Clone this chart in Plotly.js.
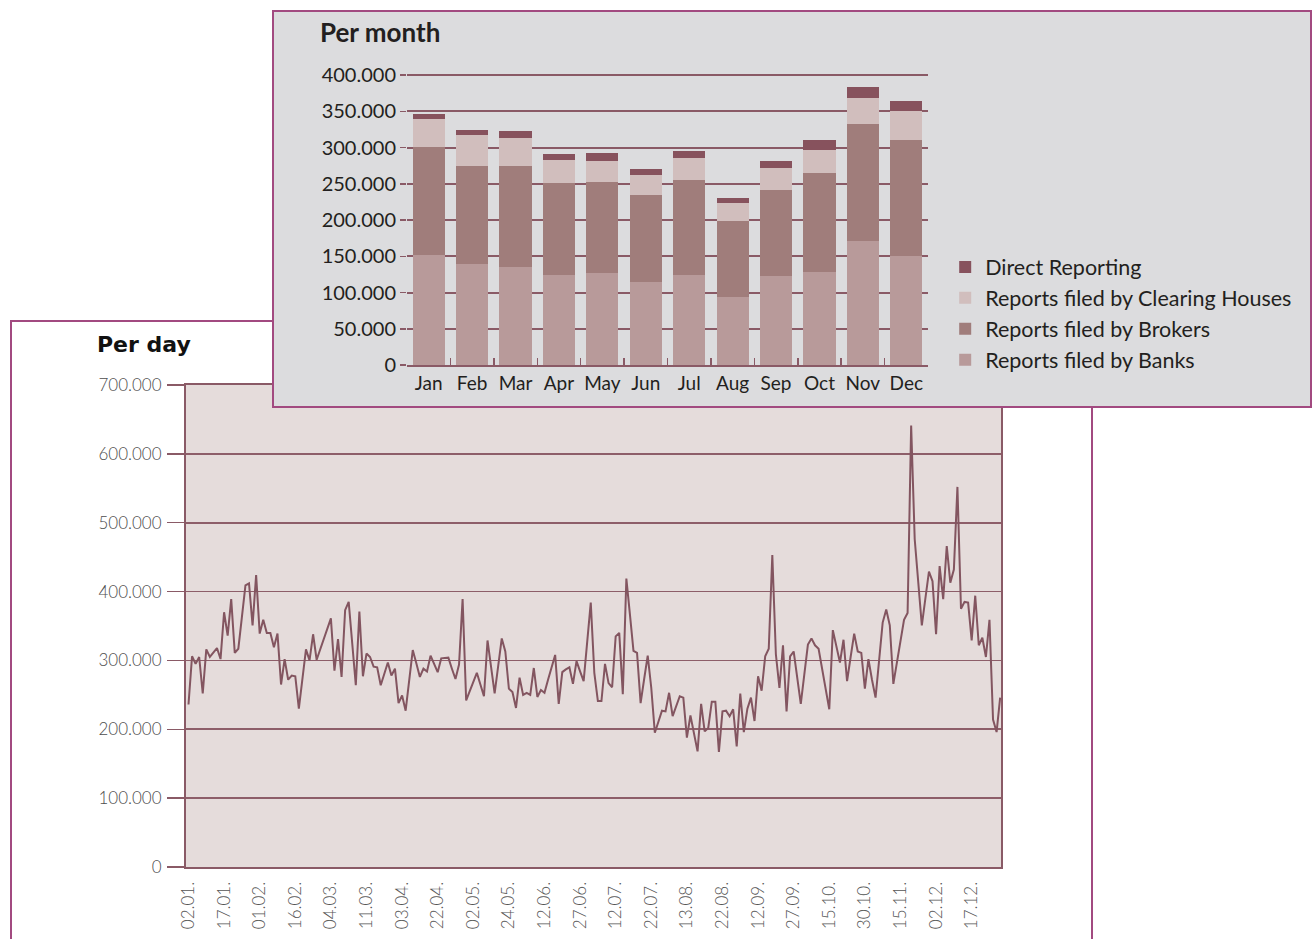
<!DOCTYPE html>
<html><head><meta charset="utf-8">
<script src="https://cdn.plot.ly/plotly-3.0.1.min.js"></script>
<style>
html,body{margin:0;padding:0;width:1312px;height:939px;overflow:hidden;background:#fff;}
#day{position:absolute;left:10px;top:320px;width:1079px;height:636px;border:2px solid #a24a80;z-index:1;background:#fff;}
#month{position:absolute;left:272px;top:10px;width:1036px;height:394px;border:2px solid #a24a80;z-index:2;background:#dcdcde;}
</style></head><body>
<div id="day"></div><div id="month"></div>
<script>
// ---------- Per month (stacked bars) ----------
const months = ['Jan','Feb','Mar','Apr','May','Jun','Jul','Aug','Sep','Oct','Nov','Dec'];
const banks          = [152000,139000,135000,124000,127000,114000,124000, 94000,123000,128000,171000,150000];
const brokers        = [149000,135000,139000,127000,125000,120000,132000,105000,119000,137000,161000,160000];
const clearingHouses = [ 39000, 44000, 39000, 32000, 30000, 28000, 30000, 25000, 30000, 32000, 36000, 40000];
const directReports  = [  7000,  7000, 10000,  8000, 10000,  8000, 10000,  7000, 10000, 14000, 15000, 15000];
const seriesNames = ['Reports filed by Banks','Reports filed by Brokers','Reports filed by Clearing Houses','Direct Reporting'];

// ---------- Per day (line), values in thousands ----------
const dailyReportsThousands = [
 236,306,295,305,252,316,305,311,318,302,
 370,336,389,311,317,363,409,412,351,424,
 339,359,340,340,319,339,265,302,272,278,
 277,230,273,316,300,338,301,316,331,346,
 361,285,331,276,373,385,327,264,371,277,
 310,305,291,290,264,281,297,278,288,238,
 249,227,271,315,296,276,288,284,307,295,
 283,303,303,304,288,273,294,389,242,256,
 271,282,265,248,329,290,252,292,332,313,
 259,254,231,275,250,253,250,289,247,257,
 253,272,290,308,237,283,287,290,266,299,
 284,270,327,384,282,241,241,295,267,261,
 335,340,251,419,367,314,311,238,273,307,
 260,195,211,227,226,253,219,234,248,246,
 188,220,194,168,237,197,202,240,240,167,
 226,227,219,229,175,252,196,230,246,212,
 277,256,306,317,453,309,260,322,226,306,
 313,275,237,280,323,332,322,317,288,258,
 229,344,320,297,330,270,305,339,313,311,
 259,302,272,246,300,355,374,351,266,297,
 328,359,369,641,476,413,351,390,429,415,
 338,437,389,466,413,432,552,375,385,384,
 329,394,322,333,305,359,214,196,246
];
const dayTickLabels = ['02.01.','17.01.','01.02.','16.02.','04.03.','11.03.','03.04.','22.04.','02.05.','24.05.','12.06.','27.06.','12.07.','22.07.','13.08.','22.08.','12.09.','27.09.','15.10.','30.10.','15.11.','02.12.','17.12.'];
const tickEvery = 10;

const axisCol = '#8a5a66';
const cfg = {staticPlot:true, displayModeBar:false};

// ---- day chart ----
const dailyReports = dailyReportsThousands.map(v => v*1000);
const dayIdx = dailyReports.map((_,i)=>i);
const dayTickVals = dayTickLabels.map((_,k)=>k*tickEvery);

Plotly.newPlot('day', [{
  x: dayIdx, y: dailyReports, type:'scatter', mode:'lines',
  line:{color:'#835560', width:2}, hoverinfo:'skip'
}], {
  width:1079, height:636, margin:{l:174, r:90, t:63, b:91},
  paper_bgcolor:'#ffffff', plot_bgcolor:'#e5dcdb', separators:',.', showlegend:false,
  font:{family:'Lato, sans-serif', color:'#555'},
  xaxis:{range:[-0.7, 228.24], tickmode:'array', tickvals:dayTickVals, ticktext:dayTickLabels,
    tickangle:-90, ticks:'', showgrid:false, zeroline:false, showline:true, mirror:true,
    linecolor:axisCol, linewidth:2, ticklabelstandoff:6,
    tickfont:{size:17, color:'#555', family:'Lato, sans-serif', weight:300}},
  yaxis:{range:[0,700000], tickmode:'linear', tick0:0, dtick:100000, tickformat:',d',
    ticks:'outside', ticklen:17, tickwidth:1.5, tickcolor:axisCol,
    gridcolor:'#8d5e69', gridwidth:1.8, zeroline:false, showline:true, mirror:true,
    linecolor:axisCol, linewidth:2, ticklabelstandoff:2,
    tickfont:{size:17, color:'#4d4d4d', family:'Lato, sans-serif', weight:300}},
  annotations:[{text:'<b>Per day</b>', xref:'paper', yref:'paper', x:-0.112, y:1.083,
    xanchor:'left', yanchor:'middle', showarrow:false,
    font:{family:'DejaVu Sans, sans-serif', size:22, color:'#111'}}]
}, cfg);

// ---- month chart ----
const barColors = ['#b89a9a','#a07d7b','#d1bebd','#87525d'];
const barSeries = [banks, brokers, clearingHouses, directReports];
const monthTraces = barSeries.map((vals,k)=>({
  type:'bar', x:months, y:vals, name:seriesNames[k],
  marker:{color:barColors[k]}, hoverinfo:'skip'
}));

Plotly.newPlot('month', monthTraces, {
  width:1036, height:394, margin:{l:133, r:382, t:61, b:41},
  paper_bgcolor:'#dcdcde', plot_bgcolor:'#dcdcde', barmode:'stack', bargap:0.26,
  separators:',.',
  font:{family:'Lato, sans-serif', color:'#231f20'},
  xaxis:{type:'category', tickangle:0, ticks:'inside', tickson:'boundaries', ticklen:7, tickwidth:1.5,
    tickcolor:axisCol, showline:true, linecolor:axisCol, linewidth:2, showgrid:false,
    tickfont:{size:19, color:'#231f20'}},
  yaxis:{range:[0,403000], tickmode:'linear', tick0:0, dtick:50000, tickformat:',d',
    ticks:'outside', ticklen:6, tickwidth:1.5, tickcolor:axisCol,
    gridcolor:'#8a5a66', gridwidth:2, zeroline:false, showline:false,
    tickfont:{size:20, color:'#231f20'}},
  showlegend:true,
  legend:{x:1.033, y:0.406, xanchor:'left', yanchor:'top', traceorder:'reversed',
    font:{size:21.5, color:'#231f20'}, bgcolor:'rgba(0,0,0,0)'},
  annotations:[{text:'<b>Per month</b>', xref:'paper', yref:'paper', x:-0.1708, y:1.14,
    xanchor:'left', yanchor:'middle', showarrow:false,
    font:{family:'Lato, sans-serif', size:26, color:'#231f20'}}]
}, cfg);
</script>
</body></html>
